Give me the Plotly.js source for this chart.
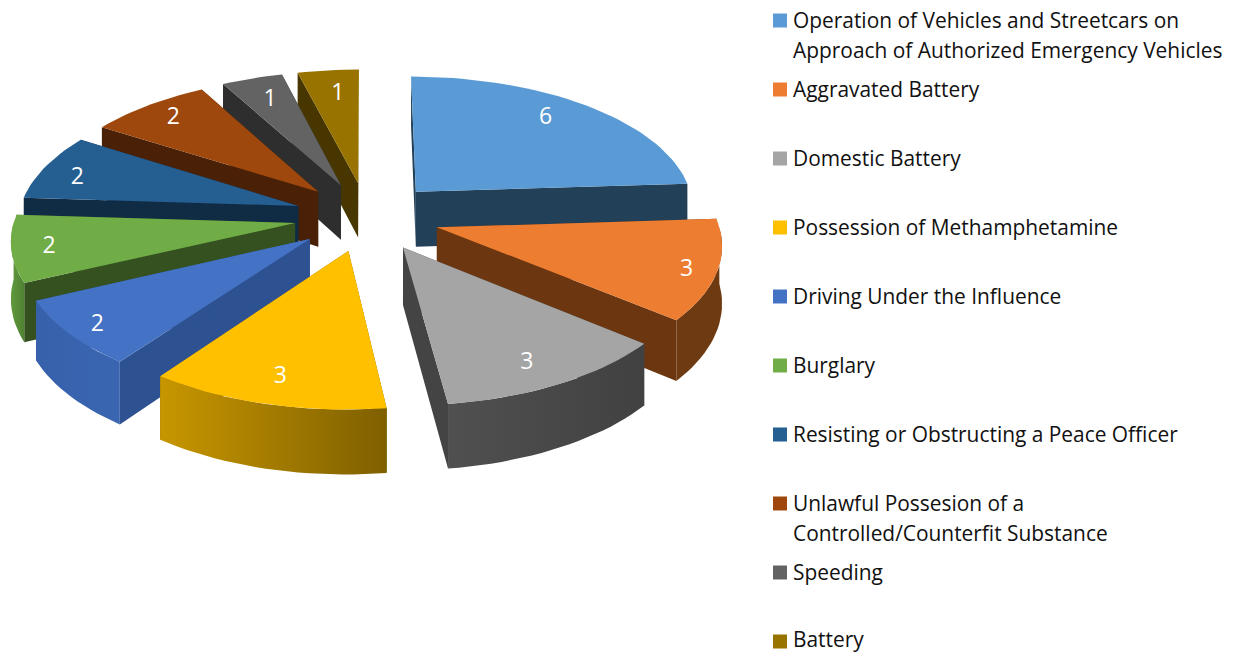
<!DOCTYPE html>
<html>
<head>
<meta charset="utf-8">
<script src="https://cdn.plot.ly/plotly-3.0.1.min.js"></script>
<style>html,body{margin:0;padding:0;background:#fff}#chart{width:1233px;height:652px}</style>
</head>
<body>
<div id="chart"></div>
<script>
// ---- data ----
var categories = [
  "Operation of Vehicles and Streetcars on Approach of Authorized Emergency Vehicles",
  "Aggravated Battery",
  "Domestic Battery",
  "Possession of Methamphetamine",
  "Driving Under the Influence",
  "Burglary",
  "Resisting or Obstructing a Peace Officer",
  "Unlawful Possesion of a Controlled/Counterfit Substance",
  "Speeding",
  "Battery"
];
var values = [6, 3, 3, 3, 2, 2, 2, 2, 1, 1];
var legendLines = [
  ["Operation of Vehicles and Streetcars on", "Approach of Authorized Emergency Vehicles"],
  ["Aggravated Battery"],
  ["Domestic Battery"],
  ["Possession of Methamphetamine"],
  ["Driving Under the Influence"],
  ["Burglary"],
  ["Resisting or Obstructing a Peace Officer"],
  ["Unlawful Possesion of a", "Controlled/Counterfit Substance"],
  ["Speeding"],
  ["Battery"]
];

// ---- styles ----
var topColors  = ["#5B9BD5","#ED7D31","#A5A5A5","#FFC000","#4472C4","#70AD47","#255E91","#9E480E","#636363","#997300"];
var faceColors = ["#234059","#6B3610","#444444","#7F6000","#2E5291","#34511F","#102C45","#4A2106","#2E2E2E","#473600"];
var rimLeft    = ["#2F5478","#6E3A12","#505050","#C79600","#3761AB","#619A3C","#1B4468","#6B3009","#3F3F3F","#5E4700"];
var rimRight   = ["#2F5478","#6E3A12","#414141","#7F6000","#3A65B0","#4F8133","#1B4468","#6B3009","#3F3F3F","#5E4700"];
var labelRadius = [0.80,0.90,0.85,0.84,0.90,0.87,0.85,0.84,0.78,0.77];
var labelTurn   = [-3,2,2,0,-1,-1,-3,0,0,1];

// ---- projection of the exploded disk ----
var CX = 367, CY = 216.5, RX = 280, RY = 133, PERSP = 0.11, EXPLODE = 0.26, THICK = 56;
function project(u, v, lift) {
  var s = 1 / (1 - PERSP * v);
  return [CX + RX * u * s, CY + RY * v * s + lift * THICK * s];
}
function rad(d) { return d * Math.PI / 180; }

var total = values.reduce(function (a, b) { return a + b; }, 0);
var slices = [], running = 0;
values.forEach(function (val, i) {
  var a0 = running / total * 360;
  running += val;
  var a1 = running / total * 360;
  slices.push({ i: i, a0: a0, a1: a1, mid: (a0 + a1) / 2 });
});
function disk(sl, ang, r) {
  return [
    EXPLODE * Math.sin(rad(sl.mid)) + r * Math.sin(rad(ang)),
    -EXPLODE * Math.cos(rad(sl.mid)) - r * Math.cos(rad(ang))
  ];
}
function pt(sl, ang, r, lift) {
  var d = disk(sl, ang, r);
  return project(d[0], d[1], lift);
}
function poly(points, name, color, gradient) {
  var t = {
    type: "scatter", mode: "lines", fill: "toself",
    x: points.map(function (p) { return p[0]; }),
    y: points.map(function (p) { return p[1]; }),
    line: { width: 0, color: color },
    fillcolor: color, name: name, showlegend: false, hoverinfo: "skip"
  };
  if (gradient) {
    t.fillgradient = { type: "horizontal", colorscale: [[0, gradient[0]], [1, gradient[1]]] };
  }
  return t;
}
function arc(sl, from, to, lift) {
  var pts = [], n = Math.max(4, Math.ceil(Math.abs(to - from) / 2));
  for (var k = 0; k <= n; k++) {
    pts.push(pt(sl, from + (to - from) * k / n, 1, lift));
  }
  return pts;
}

var traces = [];
// painter's order: back slices first
slices.slice().sort(function (p, q) {
  return (-Math.cos(rad(p.mid))) - (-Math.cos(rad(q.mid)));
}).forEach(function (sl) {
  var i = sl.i, name = categories[i];
  [sl.a0, sl.a1].forEach(function (a) {
    traces.push(poly([pt(sl, a, 0, 0), pt(sl, a, 1, 0), pt(sl, a, 1, 1), pt(sl, a, 0, 1), pt(sl, a, 0, 0)], name, faceColors[i]));
  });
  // only the part of the rim that faces the viewer (90 to 270 degrees)
  var vis0 = Math.max(sl.a0, 90), vis1 = Math.min(sl.a1, 270);
  if (vis1 > vis0) {
    var rim = arc(sl, vis0, vis1, 0).concat(arc(sl, vis1, vis0, 1));
    rim.push(rim[0]);
    traces.push(poly(rim, name, rimLeft[i], [rimLeft[i], rimRight[i]]));
  }
  var top = [pt(sl, sl.a0, 0, 0)].concat(arc(sl, sl.a0, sl.a1, 0));
  top.push(top[0]);
  traces.push(poly(top, name, topColors[i]));
});

// value labels on the slices
var labelPts = slices.map(function (sl) {
  return pt(sl, sl.mid + labelTurn[sl.i], labelRadius[sl.i], 0);
});
traces.push({
  type: "scatter", mode: "text",
  x: labelPts.map(function (p) { return p[0]; }),
  y: labelPts.map(function (p) { return p[1]; }),
  text: values.map(String), textposition: "middle center",
  textfont: { family: "Open Sans, sans-serif", size: 23, color: "#ffffff" },
  showlegend: false, hoverinfo: "skip"
});

// legend column
var LEG_SWATCH_X = 780, LEG_TEXT_X = 792.5, LEG_TOP = 20.5, LEG_STEP = 69, LEG_LINE = 30;
traces.push({
  type: "scatter", mode: "markers",
  x: categories.map(function () { return LEG_SWATCH_X; }),
  y: categories.map(function (c, i) { return LEG_TOP + i * LEG_STEP; }),
  text: categories,
  marker: { symbol: "square", size: 14, color: topColors, line: { width: 0 } },
  showlegend: false, hoverinfo: "text"
});
var annotations = [];
legendLines.forEach(function (lines, i) {
  var nudge = i === legendLines.length - 1 ? -3 : -1; // last row sits against the bottom edge
  lines.forEach(function (line, j) {
    annotations.push({
      x: LEG_TEXT_X, y: LEG_TOP + i * LEG_STEP + j * LEG_LINE + nudge,
      xref: "x", yref: "y", text: line, showarrow: false,
      xanchor: "left", yanchor: "middle", borderpad: 0, borderwidth: 0,
      font: { family: "Open Sans, sans-serif", size: 20.9, color: "#111111" }
    });
  });
});

var hidden = { visible: false, fixedrange: true };
Plotly.newPlot("chart", traces, {
  width: 1233, height: 652,
  margin: { l: 0, r: 0, t: 0, b: 0 },
  paper_bgcolor: "#ffffff", plot_bgcolor: "#ffffff",
  showlegend: false,
  xaxis: Object.assign({ range: [0, 1233] }, hidden),
  yaxis: Object.assign({ range: [652, 0] }, hidden),
  annotations: annotations
}, { displayModeBar: false, staticPlot: true });
</script>
</body>
</html>
